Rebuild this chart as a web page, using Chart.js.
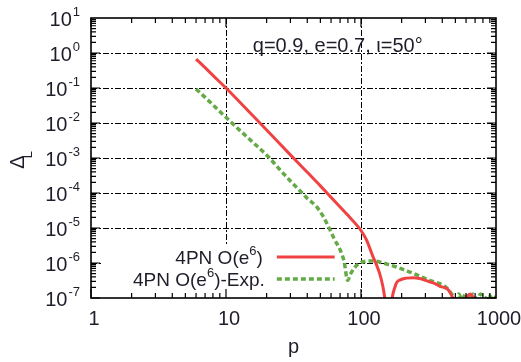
<!DOCTYPE html>
<html>
<head>
<meta charset="utf-8">
<script src="https://cdn.jsdelivr.net/npm/chart.js@4.4.0/dist/chart.umd.min.js"></script>
<style>
  body { margin: 0; background: #fff; }
  #wrap { width: 521px; height: 362px; position: relative; }
</style>
</head>
<body>
<div id="wrap"><canvas id="chart"></canvas></div>
<script>
// values
const pRed = [6, 7, 8, 10, 15, 20, 30, 40, 50, 60, 70, 80, 90, 100, 110, 122, 130, 137, 145, 150, 155,
  165, 171, 178, 183, 195, 217, 245, 271, 300, 322, 350, 381, 410, 437, 460, 476, 500, 560, 610, 646, 680, 720, 800, 900];
const deltaRed = [0.67, 0.38, 0.23, 0.1, 0.02, 6.3e-3, 1.23e-3, 3.9e-4, 1.6e-4, 7.5e-5, 4e-5, 2.3e-5, 1.4e-5, 8.5e-6, 4.5e-6, 1.6e-6, 9e-7, 5.2e-7, 2.2e-7, 1e-7, 3e-8,
  3e-8, 1.1e-7, 2e-7, 2.7e-7, 3.3e-7, 3.7e-7, 3.8e-7, 3.6e-7, 3.2e-7, 2.9e-7, 2.6e-7, 2.2e-7, 2e-7, 1.8e-7, 1.4e-7, 1.05e-7, 9e-8, 8e-8, 1.1e-7, 1.3e-7, 1e-7, 7e-8, 8e-8, 7e-8];

const pGreen = [6, 7, 8, 10, 13, 16, 21, 25, 30, 35, 40, 47, 53, 59, 64, 70, 75, 79.6, 84, 90, 98, 108, 116, 125, 137,
  160, 183, 210, 240, 280, 322, 360, 400, 440, 476, 500, 530, 560, 600, 640, 680, 720, 770, 820, 880, 950, 1000];
const deltaGreen = [0.094, 0.054, 0.033, 0.0145, 5.6e-3, 2.7e-3, 1e-3, 4.7e-4, 2.2e-4, 1.2e-4, 7e-5, 4e-5, 2e-5, 8.7e-6, 4.5e-6, 2.4e-6, 1.1e-6, 3.2e-7, 5e-7, 7.5e-7, 1e-6, 1.12e-6, 1.15e-6, 1.14e-6, 1.07e-6,
  9e-7, 7.7e-7, 6.3e-7, 5.2e-7, 4e-7, 3.2e-7, 2.8e-7, 2.4e-7, 1.8e-7, 1.2e-7, 9e-8, 1.3e-7, 9e-8, 1.35e-7, 9e-8, 1.3e-7, 9e-8, 1.3e-7, 9e-8, 1.25e-7, 9e-8, 1.1e-7];

const xDecades = [1, 10, 100, 1000];
const xLabels = ['1', '10', '100', '1000'];
const yExponents = [1, 0, -1, -2, -3, -4, -5, -6, -7];
const seriesNames = ['4PN O(e', '4PN O(e'];
const seriesTails = [')', ')-Exp.'];
const annotation = 'q=0.9, e=0.7, \u03b9=50\u00b0';

const RED = 'rgb(240,66,66)';
const GREEN = 'rgb(100,170,70)';
const TXT = '#1e1e2a';
const FONT = '"Liberation Sans", Arial, sans-serif';

const framePlugin = {
  id: 'frame',
  beforeDatasetsDraw(chart) {
    const { ctx, chartArea: a, scales: { x, y } } = chart;
    ctx.save();
    // dash-dot grid at decades
    ctx.strokeStyle = '#000';
    ctx.lineWidth = 1;
    ctx.setLineDash([6, 2, 2, 2]);
    xDecades.slice(1, -1).forEach(v => {
      const px = Math.round(x.getPixelForValue(v)) + 0.5;
      ctx.beginPath(); ctx.moveTo(px, a.top); ctx.lineTo(px, a.bottom); ctx.stroke();
    });
    yExponents.slice(1, -1).forEach(e => {
      const py = Math.round(y.getPixelForValue(Math.pow(10, e))) + 0.5;
      ctx.beginPath(); ctx.moveTo(a.left, py); ctx.lineTo(a.right, py); ctx.stroke();
    });
    ctx.setLineDash([]);

    // legend box (white, hides the grid behind it)
    const lx0 = a.left + 12, lx1 = x.getPixelForValue(71);
    const ly0 = y.getPixelForValue(Math.pow(10, -5.51));
    ctx.fillStyle = '#fff';
    ctx.fillRect(lx0, ly0, lx1 - lx0, a.bottom - ly0);

    const rows = [y.getPixelForValue(Math.pow(10, -5.83)), y.getPixelForValue(Math.pow(10, -6.46))];
    const colors = [RED, GREEN];
    const sx0 = x.getPixelForValue(23.8), sx1 = x.getPixelForValue(63.8);
    rows.forEach((ry, i) => {
      ctx.strokeStyle = colors[i];
      ctx.lineWidth = i ? 3.5 : 3;
      ctx.setLineDash(i ? [5, 3] : []);
      ctx.beginPath(); ctx.moveTo(sx0, ry); ctx.lineTo(sx1, ry); ctx.stroke();
      ctx.setLineDash([]);
      // right aligned text with superscript 6
      const right = sx0 - 14 + i * 2;
      ctx.fillStyle = TXT;
      ctx.textBaseline = 'alphabetic';
      ctx.font = '19px ' + FONT;
      const tailW = ctx.measureText(seriesTails[i]).width;
      const headW = ctx.measureText(seriesNames[i]).width;
      ctx.font = '13px ' + FONT;
      const supW = ctx.measureText('6').width;
      const cx = right - tailW - supW - headW;
      ctx.font = '19px ' + FONT;
      ctx.textAlign = 'left';
      ctx.fillText(seriesNames[i], cx, ry + 7);
      ctx.font = '13px ' + FONT;
      ctx.fillText('6', cx + headW, ry - 2);
      ctx.font = '19px ' + FONT;
      ctx.fillText(seriesTails[i], cx + headW + supW, ry + 7);
    });

    // annotation
    ctx.fillStyle = TXT;
    ctx.font = '20px ' + FONT;
    ctx.textAlign = 'left';
    ctx.fillText(annotation, x.getPixelForValue(15.8), y.getPixelForValue(Math.pow(10, 0.03)));
    ctx.restore();
  },
  afterDraw(chart) {
    const { ctx, chartArea: a, scales: { x, y } } = chart;
    ctx.save();
    ctx.strokeStyle = '#000';
    ctx.lineWidth = 1.6;
    ctx.strokeRect(a.left, a.top, a.right - a.left, a.bottom - a.top);
    ctx.lineWidth = 1.2;
    ctx.beginPath();
    // x ticks, top and bottom
    for (let d = 0; d < 3; d++) {
      for (let m = 1; m <= 9; m++) {
        const px = x.getPixelForValue(m * Math.pow(10, d));
        const len = m === 1 ? 9 : 5;
        ctx.moveTo(px, a.bottom); ctx.lineTo(px, a.bottom - len);
        ctx.moveTo(px, a.top); ctx.lineTo(px, a.top + len);
      }
    }
    // y ticks, left and right
    for (let e = -7; e < 1; e++) {
      for (let m = 1; m <= 9; m++) {
        const py = y.getPixelForValue(m * Math.pow(10, e));
        const len = m === 1 ? 9 : 5;
        ctx.moveTo(a.left, py); ctx.lineTo(a.left + len, py);
        ctx.moveTo(a.right, py); ctx.lineTo(a.right - len, py);
      }
    }
    ctx.stroke();

    ctx.fillStyle = TXT;
    // x tick labels
    ctx.font = '20px ' + FONT;
    ctx.textAlign = 'center';
    ctx.textBaseline = 'alphabetic';
    xDecades.forEach((v, i) => {
      ctx.fillText(xLabels[i], x.getPixelForValue(v) + 3, a.bottom + 27);
    });
    // y tick labels 10^n
    yExponents.forEach(e => {
      const py = y.getPixelForValue(Math.pow(10, e));
      const sup = String(e);
      ctx.font = '13px ' + FONT;
      const supW = ctx.measureText(sup).width;
      const right = a.left - 11;
      ctx.textAlign = 'left';
      ctx.fillText(sup, right - supW, py - 2);
      ctx.font = '20px ' + FONT;
      ctx.textAlign = 'right';
      ctx.fillText('10', right - supW - 1, py + 8);
    });
    // axis titles
    ctx.font = '20px ' + FONT;
    ctx.textAlign = 'center';
    ctx.fillText('p', (a.left + a.right) / 2, a.bottom + 55);
    ctx.save();
    ctx.translate(24, 158);
    ctx.rotate(-Math.PI / 2);
    ctx.textAlign = 'left';
    ctx.font = '20px ' + FONT;
    const dW = ctx.measureText('\u0394').width;
    ctx.fillText('\u0394', -dW / 2 - 4, 0);
    ctx.font = '13px ' + FONT;
    ctx.fillText('L', dW / 2 - 7, 8);
    ctx.restore();
    ctx.restore();
  }
};

new Chart(document.getElementById('chart'), {
  type: 'line',
  data: {
    datasets: [
      {
        label: '4PN O(e6)',
        data: pRed.map((p, i) => ({ x: p, y: deltaRed[i] })),
        borderColor: RED,
        borderWidth: 3,
        pointRadius: 0,
        cubicInterpolationMode: 'monotone',
        fill: false,
      },
      {
        label: '4PN O(e6)-Exp.',
        data: pGreen.map((p, i) => ({ x: p, y: deltaGreen[i] })),
        borderColor: GREEN,
        borderWidth: 3.5,
        borderDash: [5, 3],
        pointRadius: 0,
        cubicInterpolationMode: 'monotone',
        fill: false,
      },
    ],
  },
  options: {
    responsive: true,
    maintainAspectRatio: false,
    animation: false,
    layout: { padding: { left: 91, right: 25, top: 18, bottom: 64 } },
    plugins: { legend: { display: false }, tooltip: { enabled: false } },
    scales: {
      x: { type: 'logarithmic', min: 1, max: 1000, display: false },
      y: { type: 'logarithmic', min: 1e-7, max: 10, display: false },
    },
  },
  plugins: [framePlugin],
});
</script>
</body>
</html>
